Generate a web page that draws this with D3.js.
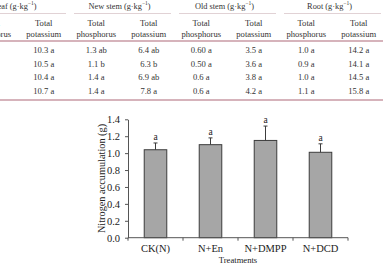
<!DOCTYPE html>
<html>
<head>
<meta charset="utf-8">
<script src="https://cdn.jsdelivr.net/npm/d3@7"></script>
<style>
  body { margin: 0; background: #fff; }
  svg { display: block; font-family: "Liberation Serif", "Times New Roman", serif; }
</style>
</head>
<body>
<div id="chart"></div>
<script>
// table (cropped at the top of the picture)
const organs = ["Leaf", "New stem", "Old stem", "Root"];
const nutrients = ["Total phosphorus", "Total potassium"];
const leafP = ["", "", "", ""]; // cut off on the left
const leafK = ["10.3 a", "10.5 a", "10.4 a", "10.7 a"];
const newStemP = ["1.3 ab", "1.1 b", "1.4 a", "1.4 a"];
const newStemK = ["6.4 ab", "6.3 b", "6.9 ab", "7.8 a"];
const oldStemP = ["0.60 a", "0.50 a", "0.6 a", "0.6 a"];
const oldStemK = ["3.5 a", "3.6 a", "3.8 a", "4.2 a"];
const rootP = ["1.0 a", "0.9 a", "1.0 a", "1.1 a"];
const rootK = ["14.2 a", "14.1 a", "14.5 a", "15.8 a"];

// bar chart
const treatments = ["CK(N)", "N+En", "N+DMPP", "N+DCD"];
const nAccum = [1.04, 1.10, 1.15, 1.01];
const nErr = [0.08, 0.08, 0.17, 0.10];
const sigLetters = ["a", "a", "a", "a"];
const yTicks = [0, 0.2, 0.4, 0.6, 0.8, 1.0, 1.2, 1.4];

const W = 383, H = 265;
const svg = d3.select("#chart").append("svg").attr("width", W).attr("height", H);

// ---------- table ----------
const tableCols = [leafP, leafK, newStemP, newStemK, oldStemP, oldStemK, rootP, rootK];
const colScale = d3.scaleBand().domain(d3.range(tableCols.length)).range([-35, 385]);
const rowScale = d3.scaleBand().domain(d3.range(4)).range([43.5, 97.5]);
const lineColor = "#c99aa4";
const tg = svg.append("g").attr("fill", "#333").style("font-size", "8.6px");

// organ headers
organs.forEach(function(o, i){
  let x0 = colScale(i*2), x1 = colScale(i*2 + 1) + colScale.bandwidth();
  let t = tg.append("text")
    .attr("x", (x0 + x1)/2 - 3).attr("y", 6)
    .attr("text-anchor", "middle").attr("dominant-baseline", "central")
    .style("font-size", "8.3px");
  t.append("tspan").text(o + " (g·kg");
  t.append("tspan").attr("dy", -3).style("font-size", "5.5px").text("−1");
  t.append("tspan").attr("dy", 3).text(")");
  tg.append("line")
    .attr("x1", x0 + 4).attr("x2", x1 - 4)
    .attr("y1", 13.5).attr("y2", 13.5)
    .attr("stroke", "#d9c6ca").attr("stroke-width", 0.8);
});

// nutrient headers
tableCols.forEach(function(col, ci){
  let cx = colScale(ci) + colScale.bandwidth()/2;
  let words = nutrients[ci % 2].split(" ");
  tg.append("text").attr("x", cx).attr("y", 23)
    .attr("text-anchor", "middle").attr("dominant-baseline", "central").text(words[0]);
  tg.append("text").attr("x", cx).attr("y", 34)
    .attr("text-anchor", "middle").attr("dominant-baseline", "central").text(words[1]);
  col.forEach(function(v, ri){
    tg.append("text")
      .attr("x", cx).attr("y", rowScale(ri) + rowScale.bandwidth()/2)
      .attr("text-anchor", "middle").attr("dominant-baseline", "central")
      .text(v);
  });
});

[41, 100].forEach(function(y){
  svg.append("line").attr("x1", 0).attr("x2", W).attr("y1", y).attr("y2", y)
    .attr("stroke", lineColor).attr("stroke-width", 1.6);
});

// ---------- bar chart ----------
const x = d3.scaleBand().domain(treatments).range([128, 348]).padding(0);
const y = d3.scaleLinear().domain([0, 1.4]).range([237.7, 119.3]);
const barW = x.bandwidth()*0.41;
const axisColor = "#555";

const g = svg.append("g");

// y axis
const yAxis = g.append("g").attr("transform", "translate(128,0)")
  .call(d3.axisLeft(y).tickValues(yTicks).tickFormat(d3.format(".1f")).tickSize(3).tickSizeOuter(0));
yAxis.select(".domain").attr("stroke", axisColor);
yAxis.selectAll(".tick line").attr("stroke", axisColor);
yAxis.selectAll(".tick text")
  .attr("x", -8)
  .style("font-family", "Liberation Serif, serif").style("font-size", "10.5px").attr("fill", "#222");

// bars
treatments.forEach(function(t, i){
  let cx = x(t) + x.bandwidth()/2;
  g.append("rect")
    .attr("x", cx - barW/2).attr("y", y(nAccum[i]))
    .attr("width", barW).attr("height", y(0) - y(nAccum[i]))
    .attr("fill", "#a6a6a6").attr("stroke", "#3c3c3c").attr("stroke-width", 1);
  // error bar (upper only)
  let top = y(nAccum[i] + nErr[i]);
  g.append("line").attr("x1", cx).attr("x2", cx)
    .attr("y1", y(nAccum[i])).attr("y2", top)
    .attr("stroke", "#3c3c3c").attr("stroke-width", 1);
  g.append("line").attr("x1", cx - 2).attr("x2", cx + 2)
    .attr("y1", top).attr("y2", top)
    .attr("stroke", "#3c3c3c").attr("stroke-width", 1);
  g.append("text").attr("x", cx).attr("y", top - 3)
    .attr("text-anchor", "middle")
    .style("font-size", "9.5px").attr("fill", "#222")
    .text(sigLetters[i]);
});

// x axis: line with ticks at category boundaries
g.append("line").attr("x1", 128).attr("x2", 348).attr("y1", y(0)).attr("y2", y(0))
  .attr("stroke", axisColor).attr("stroke-width", 1);
treatments.concat(["end"]).forEach(function(t, i){
  let bx = i < treatments.length ? x(t) : x.range()[1];
  g.append("line").attr("x1", bx).attr("x2", bx)
    .attr("y1", y(0)).attr("y2", y(0) + 3)
    .attr("stroke", axisColor).attr("stroke-width", 1);
});
treatments.forEach(function(t){
  g.append("text")
    .attr("x", x(t) + x.bandwidth()/2).attr("y", 248)
    .attr("text-anchor", "middle").attr("dominant-baseline", "central")
    .style("font-size", "10.5px").attr("fill", "#222")
    .text(t);
});

g.append("text")
  .attr("x", 238).attr("y", 259.5)
  .attr("text-anchor", "middle").attr("dominant-baseline", "central")
  .style("font-size", "8.6px").attr("fill", "#222")
  .text("Treatments");

g.append("text")
  .attr("transform", "translate(101.5,178.5) rotate(-90)")
  .attr("text-anchor", "middle").attr("dominant-baseline", "central")
  .style("font-size", "10.3px").attr("fill", "#222")
  .text("Nitrogen accumulation (g)");
</script>
</body>
</html>
